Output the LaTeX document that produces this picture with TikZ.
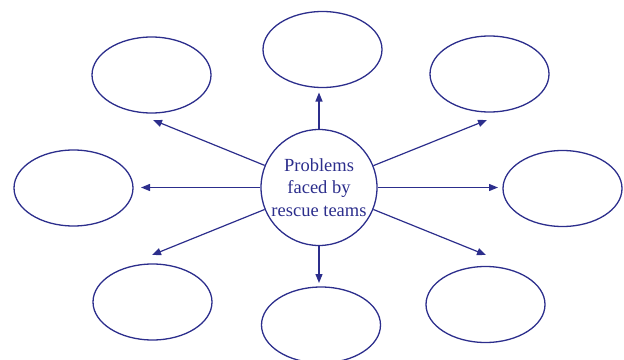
\documentclass[tikz,border=0pt]{standalone}
\usepackage{fontspec}
\setmainfont{Liberation Serif}
\usepackage{xcolor}
\usepackage{tikz}
\usetikzlibrary{shapes.geometric, arrows.meta}
\definecolor{mapblue}{RGB}{44,46,140}
\tikzset{
  hub/.style={circle, draw=mapblue, line width=1.3pt, minimum size=116pt,
    inner sep=0pt, align=center, text=mapblue,
    font=\fontsize{18.5}{22.5}\selectfont},
  blank/.style={ellipse, draw=mapblue, line width=1.3pt, minimum width=119pt,
    minimum height=76pt, inner sep=0pt},
  arrow/.style={-{Triangle[length=9pt, width=7pt]}, line width=1.2pt,
    color=mapblue},
}
\begin{document}
\begin{tikzpicture}[x=1pt, y=-1pt]
  \useasboundingbox (0,0) rectangle (624,359);
  \node[hub] (prob) at (319,187.5) {Problems\\faced by\\rescue teams};
  % the eight empty answer bubbles
  \node[blank] (top) at (322.5,49.5) {};
  \node[blank] (tl) at (151.5,75) {};
  \node[blank] (tr) at (489.5,74) {};
  \node[blank] (lft) at (73.5,188) {};
  \node[blank] (rgt) at (562.5,188.5) {};
  \node[blank] (bl) at (152.5,302) {};
  \node[blank] (bot) at (321,325) {};
  \node[blank] (br) at (485.5,304.5) {};
  % arrow tips stop short of the bubbles
  \coordinate (top-tip) at (319,92.5);
  \coordinate (tl-tip) at (153,120);
  \coordinate (tr-tip) at (487,120);
  \coordinate (lft-tip) at (141,187.5);
  \coordinate (rgt-tip) at (498,187.5);
  \coordinate (bl-tip) at (152,255);
  \coordinate (bot-tip) at (319,283);
  \coordinate (br-tip) at (486,255);
  \foreach \t in {top,tl,tr,lft,rgt,bl,bot,br}
    \draw[arrow] (prob) -- (\t-tip);
\end{tikzpicture}
\end{document}
